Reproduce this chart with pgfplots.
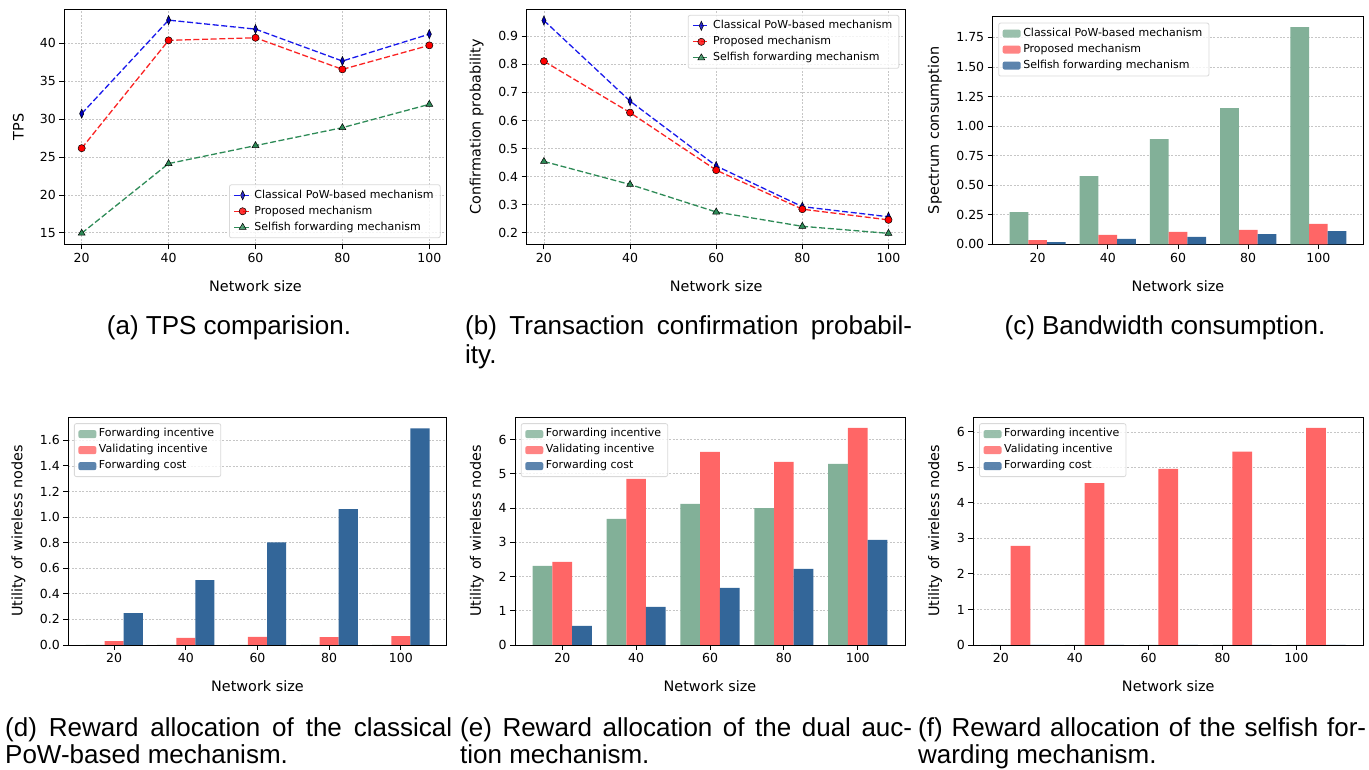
\documentclass[border=0pt]{standalone}
\usepackage{fontspec}
\setmainfont{DejaVu Sans}
\newfontfamily\capfont{Liberation Sans}
\usepackage{pgfplots}
\pgfplotsset{compat=1.18}

\definecolor{cgreen}{RGB}{130,176,152}
\definecolor{cred}{RGB}{255,102,102}
\definecolor{cblue}{RGB}{51,102,153}
\definecolor{sgreen}{RGB}{46,139,87}
\definecolor{lblue}{RGB}{25,25,235}
\definecolor{lred}{RGB}{250,35,35}

\pgfplotsset{
  panel/.style={
    scale only axis, tick pos=left, tick align=outside, major tick length=5pt,
    axis line style={line width=0.9pt},
    every tick/.append style={black, line width=0.9pt},
    tick label style={font=\fontsize{12.5}{14}\selectfont},
    label style={font=\fontsize{14.4}{16}\selectfont},
    /pgf/number format/assume math mode=true,
    xtick={20,40,60,80,100},
    grid style={gray!45, line width=0.7pt, dash pattern=on 2pt off 1.5pt},
    legend cell align=left,
    legend style={font=\fontsize{11}{12}\selectfont, draw=gray!30, line width=0.8pt,
      rounded corners=2pt, fill=white, fill opacity=0.8, text opacity=1, draw opacity=1,
      inner xsep=4pt, inner ysep=2.5pt, row sep=0pt,
      nodes={inner sep=2.6pt, text height=8.2pt, text depth=2.6pt}},
  },
  lines/.style={panel, xmin=16, xmax=104, xmajorgrids, ymajorgrids},
  bars/.style={panel, ymin=0, ymajorgrids,
    legend image code/.code={\fill[##1] (0pt,-4pt) rectangle (18pt,4pt);}},
  pclass/.style={lblue, line width=1.3pt, dash pattern=on 6pt off 2.6pt, mark=diamond*, mark size=4.6pt,
    mark options={solid, xscale=0.6, fill=blue!75!black, draw=black, line width=0.5pt}},
  pprop/.style={lred, line width=1.3pt, dash pattern=on 6pt off 2.6pt, mark=*, mark size=3.6pt,
    mark options={solid, fill=red, draw=black, line width=0.5pt}},
  pself/.style={sgreen, line width=1.3pt, dash pattern=on 6pt off 2.6pt, mark=triangle*, mark size=4pt,
    mark options={solid, fill=sgreen, draw=black, line width=0.5pt}},
  bg/.style={ybar, bar width=5.333, fill=cgreen, draw=none},
  br/.style={ybar, bar width=5.333, fill=cred, draw=none},
  bb/.style={ybar, bar width=5.333, fill=cblue, draw=none},
}

\begin{document}
\begin{tikzpicture}
\useasboundingbox (0,0) rectangle (1369pt,770pt);

% (a) TPS
\begin{axis}[lines, at={(64.3pt,525.7pt)}, anchor=south west, width=382.4pt, height=235pt,
  ymin=13.49, ymax=44.5, ytick={15,20,25,30,35,40},
  xlabel={Network size}, ylabel={TPS},
  xlabel style={at={(axis description cs:0.5,-0.176)}, anchor=center},
  ylabel style={at={(axis description cs:-0.120,0.5)}, anchor=center},
  legend style={at={(0.984,0.026)}, anchor=south east}]
\addplot[pclass] coordinates {(20,30.73)(40,43.07)(60,41.88)(80,37.67)(100,41.22)};
\addlegendentry{Classical PoW-based mechanism}
\addplot[pprop] coordinates {(20,26.17)(40,40.40)(60,40.74)(80,36.57)(100,39.74)};
\addlegendentry{Proposed mechanism}
\addplot[pself] coordinates {(20,14.95)(40,24.14)(60,26.51)(80,28.88)(100,31.96)};
\addlegendentry{Selfish forwarding mechanism}
\end{axis}

% (b) confirmation probability
\begin{axis}[lines, at={(526.7pt,525.7pt)}, anchor=south west, width=379pt, height=235pt,
  ymin=0.159, ymax=0.996, ytick={0.2,0.3,0.4,0.5,0.6,0.7,0.8,0.9},
  yticklabel style={/pgf/number format/.cd, fixed, fixed zerofill, precision=1},
  xlabel={Network size}, ylabel={Confirmation probability},
  xlabel style={at={(axis description cs:0.5,-0.176)}, anchor=center},
  ylabel style={at={(axis description cs:-0.132,0.5)}, anchor=center},
  legend style={at={(0.983,0.976)}, anchor=north east}]
\addplot[pclass] coordinates {(20,0.956)(40,0.669)(60,0.438)(80,0.293)(100,0.257)};
\addlegendentry{Classical PoW-based mechanism}
\addplot[pprop] coordinates {(20,0.811)(40,0.628)(60,0.423)(80,0.284)(100,0.246)};
\addlegendentry{Proposed mechanism}
\addplot[pself] coordinates {(20,0.454)(40,0.372)(60,0.274)(80,0.223)(100,0.198)};
\addlegendentry{Selfish forwarding mechanism}
\end{axis}

% (c) spectrum consumption, values in 1e6
\begin{axis}[bars, at={(992.7pt,525.7pt)}, anchor=south west, width=370.6pt, height=228pt,
  xmin=7.2, xmax=112.8, ymax=1.929, ytick={0,0.25,0.5,0.75,1,1.25,1.5,1.75},
  yticklabel style={/pgf/number format/.cd, fixed, fixed zerofill, precision=2},
  xlabel={Network size}, ylabel={Spectrum consumption},
  xlabel style={at={(axis description cs:0.5,-0.182)}, anchor=center},
  ylabel style={at={(axis description cs:-0.156,0.5)}, anchor=center},
  legend style={at={(0.015,0.972)}, anchor=north west}]
\addplot[bg, bar shift=-5.333] coordinates {(20,0.273)(40,0.577)(60,0.890)(80,1.152)(100,1.837)};
\addlegendentry{Classical PoW-based mechanism}
\addplot[br, bar shift=0] coordinates {(20,0.036)(40,0.079)(60,0.104)(80,0.121)(100,0.172)};
\addlegendentry{Proposed mechanism}
\addplot[bb, bar shift=5.333] coordinates {(20,0.019)(40,0.045)(60,0.062)(80,0.087)(100,0.112)};
\addlegendentry{Selfish forwarding mechanism}
\node[anchor=south west, inner sep=0pt, font=\fontsize{8}{9}\selectfont, yshift=2pt] at (rel axis cs:0,1) {1e6};
\end{axis}

% (d) classical PoW reward allocation, values in 1e6
\begin{axis}[bars, at={(68.3pt,125pt)}, anchor=south west, width=378.4pt, height=227.7pt,
  xmin=7.2, xmax=112.8, ymax=1.78, ytick={0,0.2,0.4,0.6,0.8,1,1.2,1.4,1.6},
  yticklabel style={/pgf/number format/.cd, fixed, fixed zerofill, precision=1},
  xlabel={Network size}, ylabel={Utility of wireless nodes},
  xlabel style={at={(axis description cs:0.5,-0.179)}, anchor=center},
  ylabel style={at={(axis description cs:-0.132,0.5)}, anchor=center},
  legend style={at={(0.015,0.974)}, anchor=north west}]
\addplot[bg, bar shift=-5.333] coordinates {(20,0)(40,0)(60,0)(80,0)(100,0)};
\addlegendentry{Forwarding incentive}
\addplot[br, bar shift=0] coordinates {(20,0.031)(40,0.055)(60,0.063)(80,0.062)(100,0.070)};
\addlegendentry{Validating incentive}
\addplot[bb, bar shift=5.333] coordinates {(20,0.250)(40,0.508)(60,0.803)(80,1.063)(100,1.694)};
\addlegendentry{Forwarding cost}
\node[anchor=south west, inner sep=0pt, font=\fontsize{8}{9}\selectfont, yshift=2pt] at (rel axis cs:0,1) {1e6};
\end{axis}

% (e) dual auction reward allocation, values in 1e4
\begin{axis}[bars, at={(515pt,125pt)}, anchor=south west, width=390pt, height=227.7pt,
  xmin=7.2, xmax=112.8, ymax=6.65, ytick={0,1,2,3,4,5,6},
  xlabel={Network size}, ylabel={Utility of wireless nodes},
  xlabel style={at={(axis description cs:0.5,-0.179)}, anchor=center},
  ylabel style={at={(axis description cs:-0.098,0.5)}, anchor=center},
  legend style={at={(0.015,0.974)}, anchor=north west}]
\addplot[bg, bar shift=-5.333] coordinates {(20,2.31)(40,3.68)(60,4.12)(80,4.00)(100,5.29)};
\addlegendentry{Forwarding incentive}
\addplot[br, bar shift=0] coordinates {(20,2.43)(40,4.85)(60,5.64)(80,5.35)(100,6.34)};
\addlegendentry{Validating incentive}
\addplot[bb, bar shift=5.333] coordinates {(20,0.555)(40,1.11)(60,1.67)(80,2.22)(100,3.07)};
\addlegendentry{Forwarding cost}
\node[anchor=south west, inner sep=0pt, font=\fontsize{8}{9}\selectfont, yshift=2pt] at (rel axis cs:0,1) {1e4};
\end{axis}

% (f) selfish forwarding reward allocation, values in 1e4
\begin{axis}[bars, at={(973.3pt,125pt)}, anchor=south west, width=390pt, height=227.7pt,
  xmin=12.53, xmax=118.13, ymax=6.41, ytick={0,1,2,3,4,5,6},
  xlabel={Network size}, ylabel={Utility of wireless nodes},
  xlabel style={at={(axis description cs:0.5,-0.179)}, anchor=center},
  ylabel style={at={(axis description cs:-0.098,0.5)}, anchor=center},
  legend style={at={(0.015,0.974)}, anchor=north west}]
\addplot[bg, bar shift=0] coordinates {(20,0)(40,0)(60,0)(80,0)(100,0)};
\addlegendentry{Forwarding incentive}
\addplot[br, bar shift=5.333] coordinates {(20,2.79)(40,4.56)(60,4.96)(80,5.44)(100,6.11)};
\addlegendentry{Validating incentive}
\addplot[bb, bar shift=10.667] coordinates {(20,0)(40,0)(60,0)(80,0)(100,0)};
\addlegendentry{Forwarding cost}
\node[anchor=south west, inner sep=0pt, font=\fontsize{8}{9}\selectfont, yshift=2pt] at (rel axis cs:0,1) {1e4};
\end{axis}

% captions
\begin{scope}[every node/.style={inner sep=0pt, font=\capfont\fontsize{26}{29}\selectfont}]
\node[anchor=base] at (229pt,435pt) {(a) TPS comparision.};
\node[anchor=base west] at (465pt,435pt) {\makebox[447pt][s]{(b) Transaction confirmation probabil-}};
\node[anchor=base west] at (465pt,406pt) {ity.};
\node[anchor=base] at (1165pt,435pt) {(c) Bandwidth consumption.};
\node[anchor=base west] at (5pt,33.5pt) {\makebox[447pt][s]{(d) Reward allocation of the classical}};
\node[anchor=base west] at (5pt,6pt) {PoW-based mechanism.};
\node[anchor=base west] at (460pt,33.5pt) {\makebox[452pt][s]{(e) Reward allocation of the dual auc-}};
\node[anchor=base west] at (460pt,6pt) {tion mechanism.};
\node[anchor=base west] at (918pt,33.5pt) {\makebox[448pt][s]{(f) Reward allocation of the selfish for-}};
\node[anchor=base west] at (918pt,6pt) {warding mechanism.};
\end{scope}
\end{tikzpicture}
\end{document}
